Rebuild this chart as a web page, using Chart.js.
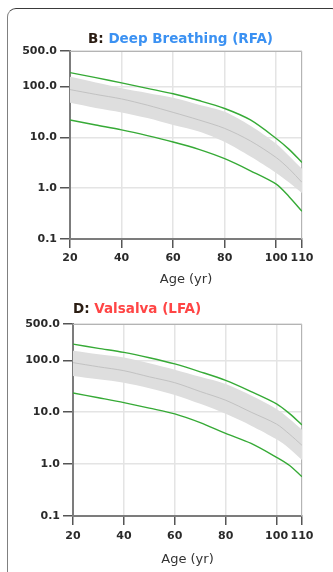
<!DOCTYPE html>
<html><head><meta charset="utf-8">
<script src="https://cdn.jsdelivr.net/npm/chart.js@4.4.0/dist/chart.umd.min.js"></script>
<style>
html,body{margin:0;padding:0;background:#fff;width:333px;height:572px;overflow:hidden;}
#frame{position:absolute;left:7px;top:8px;width:334px;height:575px;border:1.5px solid #3a3a3a;border-left-color:#808080;border-radius:9px;box-sizing:border-box;}
.wrap{position:absolute;left:0;width:333px;}
#w1{top:0;height:290px}
#w2{top:290px;height:282px}
</style></head><body>
<div id="frame"></div>
<div class="wrap" id="w1"><canvas id="c1"></canvas></div>
<div class="wrap" id="w2"><canvas id="c2"></canvas></div>
<script>
const ages = [20, 30, 40, 50, 60, 70, 80, 90, 100, 105, 110];
const xTicks = [20, 40, 60, 80, 100, 110];
const yTicks = [0.1, 1, 10, 100, 500];

// B: Deep Breathing (RFA)
const rfaUpper    = [188, 150, 118, 92, 72, 53, 37, 22, 9.5, 5.8, 3.2];
const rfaBandHigh = [155, 120, 93, 75, 60, 44, 32, 17, 7.5, 4.3, 2.4];
const rfaMedian   = [87, 70, 57, 43, 31, 22, 15, 8.5, 4.0, 2.4, 1.3];
const rfaBandLow  = [48, 38, 31, 24, 17.5, 13, 8.1, 4.2, 2.0, 1.3, 0.8];
const rfaLower    = [22, 17.5, 14, 10.8, 8.1, 5.8, 3.8, 2.2, 1.2, 0.68, 0.35];

// D: Valsalva (LFA)
const lfaUpper    = [205, 170, 142, 112, 85, 60, 41, 25, 14.5, 9.5, 5.7];
const lfaBandHigh = [152, 130, 113, 88, 66, 48, 35, 21, 11.5, 7.5, 4.6];
const lfaMedian   = [90, 75, 63, 48, 37, 25, 17, 10, 5.9, 3.8, 2.3];
const lfaBandLow  = [50, 43, 37, 29, 21.5, 14.5, 9.3, 5.5, 3.0, 2.0, 1.2];
const lfaLower    = [23.5, 19, 15.3, 12, 9.3, 6.3, 3.9, 2.5, 1.35, 0.95, 0.57];

const GREEN = '#36aa36';
const pts = (arr) => ages.map((a, i) => ({x: a, y: arr[i]}));

const frameAndTitle = {
  id: 'frameAndTitle',
  beforeDatasetsDraw(chart, args, opts) {
    const {ctx, chartArea: a} = chart;
    ctx.save();
    ctx.strokeStyle = '#b4b4b4';
    ctx.lineWidth = 1;
    ctx.beginPath();
    ctx.moveTo(a.left, a.top + 0.5);
    ctx.lineTo(a.right - 0.5, a.top + 0.5);
    ctx.lineTo(a.right - 0.5, a.bottom);
    ctx.stroke();
    ctx.restore();
  },
  afterDraw(chart, args, opts) {
    const {ctx} = chart;
    ctx.save();
    ctx.font = 'bold 13.5px "DejaVu Sans"';
    ctx.textBaseline = 'alphabetic';
    ctx.textAlign = 'left';
    ctx.fillStyle = '#2a1c12';
    ctx.fillText(opts.prefix, opts.x, opts.y);
    const w = ctx.measureText(opts.prefix + ' ').width;
    ctx.fillStyle = opts.color;
    ctx.fillText(opts.text, opts.x + w, opts.y);
    ctx.restore();
  }
};

function makeChart(id, d, cfg) {
  return new Chart(document.getElementById(id), {
    type: 'line',
    data: {
      datasets: [
        {data: pts(d.upper), borderColor: GREEN, borderWidth: 1.4, pointRadius: 0, fill: false, tension: 0.3},
        {data: pts(d.lower), borderColor: GREEN, borderWidth: 1.4, pointRadius: 0, fill: false, tension: 0.3},
        {data: pts(d.median), borderColor: '#c2c2c2', borderWidth: 1, pointRadius: 0, fill: false, tension: 0.3},
        {data: pts(d.high), borderColor: 'rgba(0,0,0,0)', borderWidth: 0, pointRadius: 0, backgroundColor: '#dedede', fill: 4, tension: 0.3},
        {data: pts(d.low), borderColor: 'rgba(0,0,0,0)', borderWidth: 0, pointRadius: 0, fill: false, tension: 0.3}
      ]
    },
    options: {
      responsive: true,
      maintainAspectRatio: false,
      animation: false,
      events: [],
      layout: {padding: {top: cfg.top, right: 31, bottom: 0, left: 0}},
      plugins: {
        legend: {display: false},
        tooltip: {enabled: false},
        frameAndTitle: cfg.title
      },
      scales: {
        x: {
          type: 'linear', min: 20, max: 110,
          afterBuildTicks: (s) => { s.ticks = xTicks.map(v => ({value: v})); },
          afterFit: (s) => { s.height = cfg.xh; },
          ticks: {autoSkip: false, maxRotation: 0, padding: cfg.xpad, color: '#2a2a2a',
                  font: {family: 'DejaVu Sans', size: 11, weight: 'bold'}},
          grid: {color: '#e4e4e4', lineWidth: 1.5, tickColor: '#555', tickLength: 9, tickWidth: 1.5},
          border: {color: '#7c7c7c', width: 2},
          title: {display: true, text: 'Age (yr)', color: '#333',
                  font: {family: 'DejaVu Sans', size: 13}, padding: {top: 0, bottom: cfg.tpad}}
        },
        y: {
          type: 'logarithmic', min: 0.1, max: 500,
          afterBuildTicks: (s) => { s.ticks = yTicks.map(v => ({value: v})); },
          afterFit: (s) => { s.width = cfg.yw; },
          ticks: {padding: 3, color: '#2a2a2a', callback: (v) => Number(v).toFixed(1),
                  font: {family: 'DejaVu Sans', size: 11, weight: 'bold'}},
          grid: {color: '#e4e4e4', lineWidth: 1.5, tickColor: '#555', tickLength: 10, tickWidth: 1.5},
          border: {color: '#7c7c7c', width: 2}
        }
      }
    },
    plugins: [frameAndTitle]
  });
}

makeChart('c1', {upper: rfaUpper, lower: rfaLower, median: rfaMedian, high: rfaBandHigh, low: rfaBandLow},
  {top: 51, xh: 51, yw: 70, xpad: 4, tpad: 3,
   title: {prefix: 'B:', text: 'Deep Breathing (RFA)', color: '#3b91f2', x: 88, y: 43}});
makeChart('c2', {upper: lfaUpper, lower: lfaLower, median: lfaMedian, high: lfaBandHigh, low: lfaBandLow},
  {top: 34, xh: 56, yw: 73, xpad: 5, tpad: 5,
   title: {prefix: 'D:', text: 'Valsalva (LFA)', color: '#ff4545', x: 73, y: 23}});
</script>
</body></html>
